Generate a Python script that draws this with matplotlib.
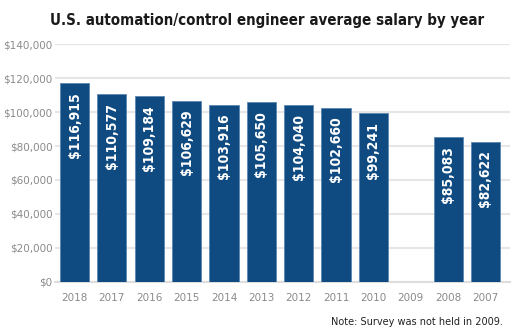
import numpy as np
import matplotlib.pyplot as plt
from matplotlib.ticker import FuncFormatter

years = ['2018', '2017', '2016', '2015', '2014', '2013', '2012',
         '2011', '2010', '2009', '2008', '2007']
salary = [116915, 110577, 109184, 106629, 103916, 105650, 104040,
          102660, 99241, np.nan, 85083, 82622]

bar_color = '#0f4a80'
grid_color = '#e6e6e6'
tick_color = '#8a8a8a'

fig = plt.figure(figsize=(5.2, 3.34), dpi=100)
ax = fig.add_axes([0.106, 0.156, 0.875, 0.712])

x = np.arange(len(years))
ax.bar(x, np.nan_to_num(salary), width=0.78, color=bar_color,
       edgecolor='#5b87b3', linewidth=0.6, zorder=3)

# value labels run up the inside of each bar
for xi, v in zip(x, salary):
    if np.isnan(v):
        continue
    ax.text(xi, v - 5000, f'${v:,.0f}', rotation=90, ha='center', va='top',
            color='white', fontsize=10, fontweight='bold',
            family='DejaVu Sans', stretch='condensed', zorder=4)

ax.set_ylim(0, 140000)
ax.set_xlim(-0.52, 11.66)
ax.set_yticks(np.arange(0, 140001, 20000))
ax.yaxis.set_major_formatter(FuncFormatter(lambda v, p: f'${v:,.0f}'))
ax.set_xticks(x)
ax.set_xticklabels(years)

ax.grid(axis='y', color=grid_color, linewidth=1.5, zorder=0)
for s in ['top', 'right', 'left']:
    ax.spines[s].set_visible(False)
ax.spines['bottom'].set_color('#dddddd')
ax.spines['bottom'].set_linewidth(1.5)
ax.tick_params(length=0, colors=tick_color, labelsize=7.5)
ax.tick_params(axis='x', pad=8)
ax.tick_params(axis='y', pad=2)

fig.text(0.514, 0.94, 'U.S. automation/control engineer average salary by year',
         ha='center', va='center', fontsize=10.8, fontweight='bold',
         family='DejaVu Sans', stretch='condensed', color='#1a1a1a')
fig.text(0.968, 0.035, 'Note: Survey was not held in 2009.', ha='right',
         va='center', fontsize=7, color='#222222')

fig.savefig('out.png', dpi=100)
